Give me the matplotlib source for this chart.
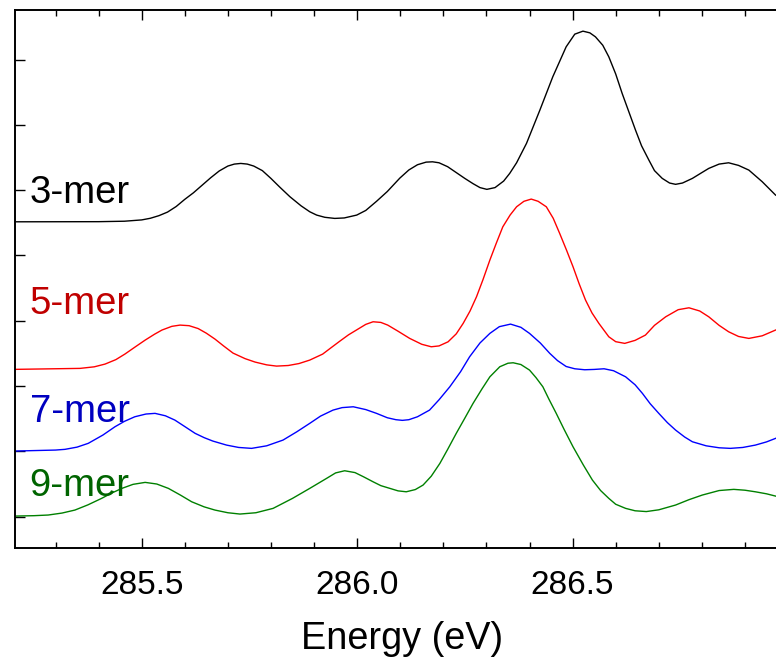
import matplotlib
matplotlib.use("Agg")
import matplotlib.pyplot as plt
from matplotlib.ticker import MultipleLocator, FixedLocator, NullFormatter

plt.rcParams['font.family'] = ['Liberation Sans', 'DejaVu Sans']

# ---- data (energy in eV, intensity in arbitrary offset units) ----
x3 = [285.206, 285.40, 285.46, 285.50, 285.52, 285.54, 285.56, 285.58, 285.60, 285.62, 285.64,
      285.66, 285.68, 285.70, 285.715, 285.73, 285.745, 285.76, 285.78, 285.80, 285.82,
      285.844, 285.87, 285.89, 285.906, 285.925, 285.948, 285.97, 285.999, 286.02, 286.045,
      286.07, 286.099, 286.12, 286.14, 286.16, 286.175, 286.19, 286.21, 286.23, 286.25,
      286.269, 286.285, 286.301, 286.32, 286.34, 286.354, 286.37, 286.393, 286.424, 286.454,
      286.485, 286.505, 286.524, 286.54, 286.553, 286.57, 286.584, 286.60, 286.615, 286.646,
      286.66, 286.677, 286.69, 286.708, 286.725, 286.739, 286.755, 286.778, 286.80, 286.816,
      286.84, 286.862, 286.885, 286.909, 286.94, 286.971]
y3 = [4.516, 4.518, 4.525, 4.545, 4.570, 4.610, 4.665, 4.750, 4.860, 4.960, 5.075,
      5.190, 5.295, 5.370, 5.400, 5.410, 5.400, 5.370, 5.300, 5.180, 5.050,
      4.900, 4.760, 4.670, 4.619, 4.585, 4.568, 4.575, 4.619, 4.690, 4.830,
      4.980, 5.185, 5.310, 5.390, 5.430, 5.435, 5.420, 5.360, 5.270, 5.180,
      5.100, 5.040, 5.013, 5.040, 5.140, 5.257, 5.420, 5.717, 6.226, 6.737,
      7.196, 7.390, 7.436, 7.410, 7.349, 7.220, 7.043, 6.780, 6.482, 5.920,
      5.680, 5.461, 5.300, 5.181, 5.110, 5.090, 5.110, 5.181, 5.270, 5.334,
      5.400, 5.420, 5.380, 5.308, 5.130, 4.925]

x5 = [285.206, 285.357, 285.39, 285.415, 285.44, 285.461, 285.485, 285.508, 285.53, 285.547,
      285.57, 285.589, 285.61, 285.631, 285.65, 285.670, 285.69, 285.712, 285.74, 285.763,
      285.79, 285.813, 285.84, 285.865, 285.890, 285.92, 285.94, 285.960, 285.98, 286.002,
      286.02, 286.037, 286.055, 286.071, 286.095, 286.122, 286.15, 286.172, 286.19, 286.211,
      286.23, 286.246, 286.262, 286.277, 286.292, 286.308, 286.323, 286.338, 286.355, 286.370,
      286.387, 286.404, 286.42, 286.439, 286.455, 286.470, 286.486, 286.501, 286.515, 286.530,
      286.545, 286.561, 286.584, 286.60, 286.621, 286.645, 286.669, 286.69, 286.716, 286.745,
      286.770, 286.795, 286.816, 286.84, 286.862, 286.885, 286.909, 286.94, 286.971]
y5 = [2.256, 2.271, 2.295, 2.337, 2.405, 2.490, 2.600, 2.704, 2.795, 2.858,
      2.915, 2.934, 2.925, 2.881, 2.810, 2.720, 2.615, 2.505, 2.420, 2.368,
      2.325, 2.306, 2.315, 2.345, 2.398, 2.490, 2.590, 2.689, 2.785, 2.873,
      2.945, 2.985, 2.975, 2.934, 2.840, 2.730, 2.640, 2.602, 2.615, 2.678,
      2.800, 2.960, 3.150, 3.368, 3.630, 3.930, 4.190, 4.439, 4.620, 4.746,
      4.830, 4.864, 4.830, 4.746, 4.570, 4.338, 4.080, 3.827, 3.570, 3.317,
      3.120, 2.960, 2.755, 2.680, 2.654, 2.700, 2.781, 2.930, 3.061, 3.170,
      3.199, 3.150, 3.061, 2.930, 2.832, 2.760, 2.730, 2.770, 2.858]

x7 = [285.206, 285.30, 285.322, 285.35, 285.376, 285.41, 285.438, 285.46, 285.484, 285.51,
      285.531, 285.555, 285.577, 285.60, 285.624, 285.645, 285.665, 285.697, 285.725, 285.755,
      285.79, 285.828, 285.86, 285.890, 285.915, 285.944, 285.965, 285.991, 286.02, 286.045,
      286.07, 286.09, 286.105, 286.12, 286.14, 286.168, 286.19, 286.215, 286.24, 286.261,
      286.285, 286.308, 286.33, 286.356, 286.38, 286.400, 286.425, 286.447, 286.465, 286.485,
      286.505, 286.528, 286.55, 286.573, 286.595, 286.623, 286.645, 286.662, 286.680, 286.700,
      286.72, 286.739, 286.76, 286.778, 286.81, 286.84, 286.866, 286.895, 286.924, 286.95,
      286.971]
y7 = [1.005, 1.020, 1.031, 1.065, 1.123, 1.250, 1.377, 1.460, 1.530, 1.572,
      1.582, 1.545, 1.479, 1.380, 1.276, 1.210, 1.158, 1.096, 1.060, 1.046,
      1.085, 1.173, 1.300, 1.429, 1.540, 1.632, 1.670, 1.683, 1.640, 1.582,
      1.515, 1.485, 1.475, 1.485, 1.530, 1.632, 1.790, 1.989, 2.220, 2.449,
      2.660, 2.807, 2.910, 2.949, 2.900, 2.807, 2.660, 2.501, 2.390, 2.300,
      2.265, 2.250, 2.255, 2.265, 2.235, 2.142, 2.020, 1.888, 1.730, 1.582,
      1.440, 1.326, 1.220, 1.147, 1.085, 1.055, 1.046, 1.060, 1.096, 1.145,
      1.199]

x9 = [285.206, 285.25, 285.283, 285.315, 285.345, 285.375, 285.407, 285.43, 285.454, 285.48,
      285.508, 285.535, 285.562, 285.59, 285.616, 285.645, 285.670, 285.70, 285.728, 285.765,
      285.805, 285.85, 285.890, 285.93, 285.95, 285.971, 285.995, 286.015, 286.037, 286.055,
      286.076, 286.095, 286.114, 286.135, 286.153, 286.172, 286.192, 286.21, 286.230, 286.25,
      286.269, 286.29, 286.308, 286.331, 286.35, 286.362, 286.38, 286.400, 286.415, 286.431,
      286.445, 286.462, 286.48, 286.501, 286.525, 286.546, 286.565, 286.584, 286.60, 286.623,
      286.645, 286.671, 286.70, 286.739, 286.77, 286.801, 286.84, 286.874, 286.90, 286.924,
      286.95, 286.971]
y9 = [0.009, 0.015, 0.025, 0.055, 0.101, 0.180, 0.280, 0.360, 0.433, 0.495,
      0.525, 0.500, 0.433, 0.330, 0.228, 0.150, 0.101, 0.060, 0.040, 0.060,
      0.127, 0.280, 0.433, 0.590, 0.670, 0.703, 0.675, 0.610, 0.534, 0.475,
      0.433, 0.395, 0.381, 0.415, 0.484, 0.620, 0.816, 1.030, 1.276, 1.510,
      1.735, 1.960, 2.142, 2.296, 2.350, 2.357, 2.330, 2.245, 2.130, 1.989,
      1.800, 1.582, 1.340, 1.070, 0.790, 0.560, 0.400, 0.280, 0.190, 0.127,
      0.090, 0.078, 0.105, 0.178, 0.260, 0.331, 0.400, 0.418, 0.405, 0.381,
      0.350, 0.315]

series_labels = ['3-mer', '5-mer', '7-mer', '9-mer']
label_y = [4.807, 3.103, 1.452, 0.316]
line_colors = ['#000000', '#ff0000', '#0000ff', '#008000']
text_colors = ['#000000', '#c00000', '#0000c0', '#006400']
xtick_vals = [285.5, 286.0, 286.5]

# ---- figure ----
W, H = 776, 669
fig = plt.figure(figsize=(W / 100, H / 100), dpi=100)
ax = fig.add_axes([15 / W, (H - 548) / H, (776 - 15) / W, (548 - 10) / H])

for xs, ys, c in zip([x3, x5, x7, x9], [y3, y5, y7, y9], line_colors):
    ax.plot(xs, ys, color=c, lw=1.0, solid_joinstyle='round')

for lab, ly, c in zip(series_labels, label_y, text_colors):
    ax.text(285.240, ly, lab, color=c, fontsize=27.5, ha='left', va='baseline')

ax.set_xlim(285.206, 286.972)
ax.set_ylim(-0.48, 7.76)

ax.xaxis.set_major_locator(FixedLocator(xtick_vals))
ax.xaxis.set_minor_locator(MultipleLocator(0.1))
ax.set_xticklabels([f'{v:.1f}' for v in xtick_vals])
ax.yaxis.set_major_locator(MultipleLocator(1))
ax.yaxis.set_major_formatter(NullFormatter())

ax.tick_params(axis='x', which='major', direction='in', length=7.5, width=1.0,
               top=True, bottom=True, labelsize=24, pad=16)
ax.tick_params(axis='x', which='minor', direction='in', length=4, width=1.0,
               top=True, bottom=True)
ax.tick_params(axis='y', which='major', direction='in', length=7.5, width=1.0,
               left=True, right=False)

for s in ['left', 'bottom', 'top']:
    ax.spines[s].set_linewidth(1.4)
ax.spines['right'].set_visible(False)

ax.set_xlabel('Energy (eV)', fontsize=27.3, va='baseline')
ax.xaxis.set_label_coords((401.7 - 15) / 761, (548 - 649) / 538)

fig.savefig('out.png', dpi=100)
